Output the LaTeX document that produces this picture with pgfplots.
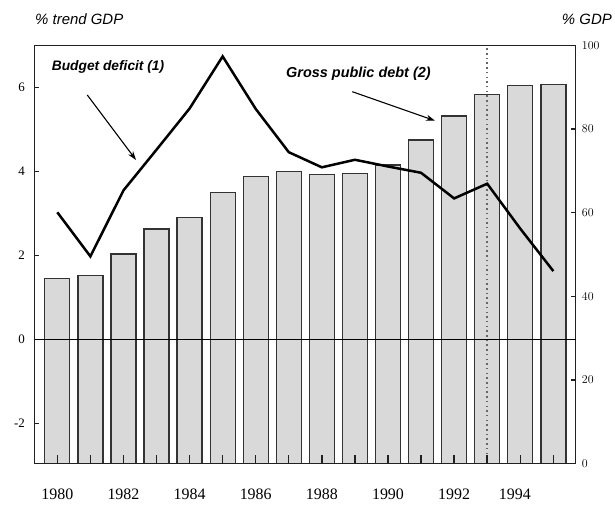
\documentclass[border=0pt]{standalone}
\usepackage{pgfplots}
\pgfplotsset{compat=1.18}
\usepackage{fontspec}
\setmainfont{Liberation Serif}
\newfontfamily\hel{Liberation Sans}
\usetikzlibrary{arrows.meta}
\definecolor{barfill}{HTML}{D9D9D9}
\definecolor{baredge}{HTML}{333333}
\definecolor{axcol}{HTML}{202020}

\begin{document}
\begin{tikzpicture}
\draw[white, line width=0pt] (0,0) rectangle (615bp,506bp);
% Gross public debt (right axis, % GDP)
\begin{axis}[
 at={(34.5bp,42.5bp)}, anchor=south west,
 scale only axis, width=541bp, height=418bp,
 xmin=1979.31, xmax=1995.67, ymin=0, ymax=100,
 hide x axis, axis y line*=right,
 axis line style={-, axcol, line width=1.8bp},
 ytick={0,20,...,100},
 tick align=inside, major tick length=5bp,
 ytick style={axcol, line width=1.5bp},
 yticklabel style={font=\fontsize{13}{15}\selectfont, anchor=west, inner sep=0pt, xshift=6.2bp},
]
\addplot[ybar, bar width=0.756, fill=barfill, draw=baredge, line width=1.3bp] coordinates {
(1980,44.3) (1981,45.0) (1982,50.1) (1983,56.1) (1984,58.9) (1985,64.8)
(1986,68.7) (1987,69.9) (1988,69.1) (1989,69.3) (1990,71.4) (1991,77.4)
(1992,83.1) (1993,88.3) (1994,90.4) (1995,90.7)};
\draw[dash pattern=on 1.5bp off 3.2bp, line width=1.7bp, black!60] (axis cs:1993,0) -- (axis cs:1993,100);
\end{axis}
% Budget deficit (left axis, % trend GDP)
\begin{axis}[
 at={(34.5bp,42.5bp)}, anchor=south west,
 scale only axis, width=541bp, height=418bp,
 xmin=1979.31, xmax=1995.67, ymin=-2.95, ymax=7,
 axis line style={axcol, line width=1.8bp},
 xtick={1980,...,1995},
 xticklabels={1980,,1982,,1984,,1986,,1988,,1990,,1992,,{\raisebox{-2bp}{\makebox[0pt]{\hspace*{-10.6bp}1994}}},},
 xtick pos=left, ytick pos=left, tick align=inside,
 major tick length=8bp,
 xtick style={axcol, line width=1.4bp},
 xticklabel style={font=\fontsize{16}{18}\selectfont, anchor=north, inner sep=0pt, yshift=-24.8bp},
 ytick={-2,0,2,4,6}, yticklabels={-2,0,2,4,6},
 ytick style={axcol, line width=1.5bp, /pgfplots/major tick length=5bp},
 yticklabel style={font=\fontsize{13}{15}\selectfont, anchor=east, inner sep=0pt, xshift=-9.5bp},
]
\draw[black, line width=1.1bp] (axis cs:1979.31,0) -- (axis cs:1995.67,0);
\addplot[black, line width=2.5bp, mark=none] coordinates {
(1980,3.03) (1981,1.98) (1982,3.55) (1983,4.52) (1984,5.50) (1985,6.74)
(1986,5.49) (1987,4.46) (1988,4.10) (1989,4.28) (1990,4.12) (1991,3.97)
(1992,3.36) (1993,3.71) (1994,2.64) (1995,1.63)};
\end{axis}
\node[font=\fontsize{15}{17}\selectfont\hel\itshape, anchor=base west, inner sep=0pt] at (35bp,481bp) {\% trend GDP};
\node[font=\fontsize{15}{17}\selectfont\hel\itshape, anchor=base east, inner sep=0pt] at (612bp,481bp) {\% GDP};
\node[font=\fontsize{13.8}{16}\selectfont\hel\bfseries\itshape, anchor=base west, inner sep=0pt] at (51.7bp,435bp) {Budget deficit (1)};
\node[font=\fontsize{14.5}{17}\selectfont\hel\bfseries\itshape, anchor=base west, inner sep=0pt] at (286bp,428.5bp) {Gross public debt (2)};
\draw[-{Stealth[length=9bp,width=6bp]}, line width=1.1bp] (87.3bp,411bp) -- (136bp,346bp);
\draw[-{Stealth[length=9bp,width=6bp]}, line width=1.1bp] (352.3bp,414.3bp) -- (435bp,385.3bp);
\end{tikzpicture}
\end{document}
